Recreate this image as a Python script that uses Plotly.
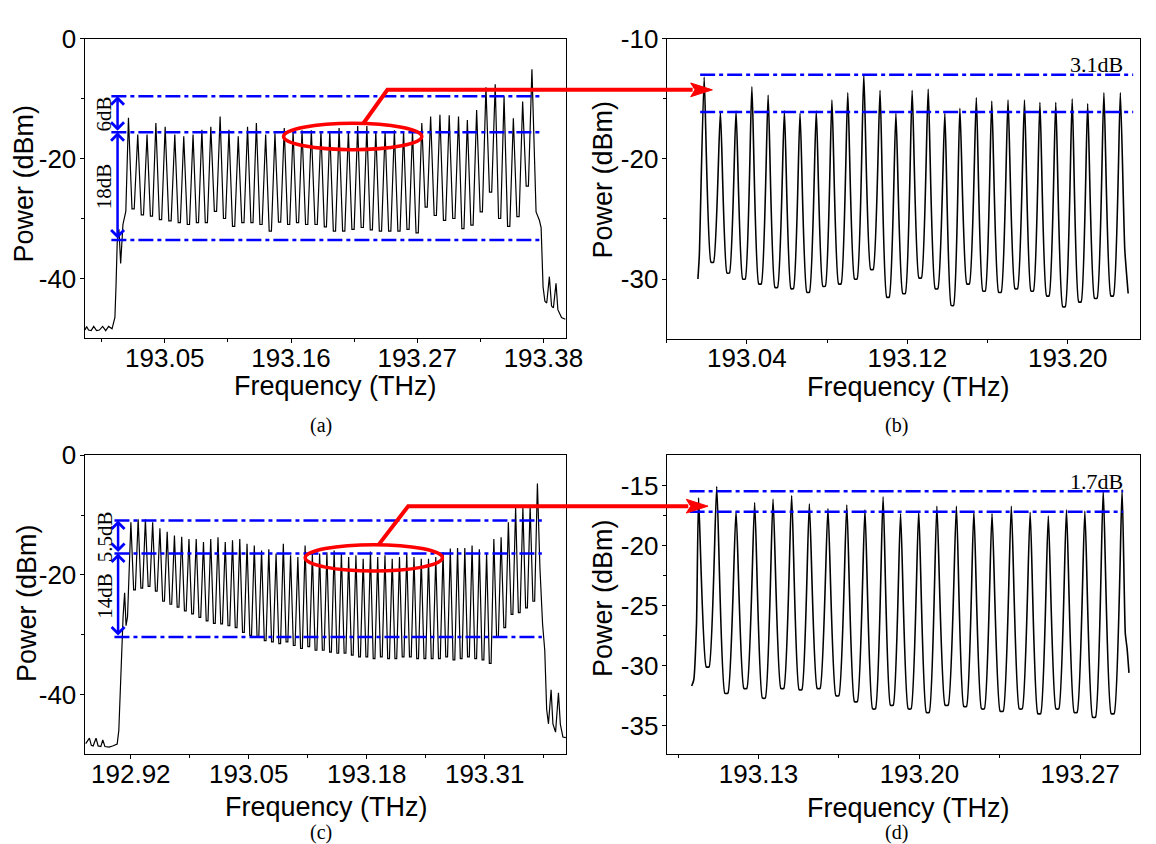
import plotly.graph_objects as go

W, H = 1156, 844

# ---------------------------------------------------------------------------
# Spectra.  Each comb is stored as its line peaks, the floor level reached
# between neighbouring lines, and the skirt points before/after the comb.
# ---------------------------------------------------------------------------

# (a) full comb, first configuration
A_PEAK_F = [193.0183, 193.0264, 193.0345, 193.0422, 193.0503, 193.0587, 193.0665, 193.0746,
            193.0823, 193.0901, 193.0982, 193.1059, 193.1140, 193.1221, 193.1298, 193.1379,
            193.1460, 193.1541, 193.1618, 193.1696, 193.1777, 193.1861, 193.1938, 193.2019,
            193.2100, 193.2181, 193.2261, 193.2339, 193.2420, 193.2501, 193.2581, 193.2659,
            193.2740, 193.2817, 193.2898, 193.2979, 193.3060, 193.3137, 193.3218, 193.3299,
            193.3380, 193.3457, 193.3538, 193.3619, 193.3700]
A_PEAK_P = [-13.2, -16.0, -16.0, -14.1, -14.7, -16.0, -16.3, -16.0, -15.2, -14.7, -13.0, -15.2,
            -16.3, -14.7, -14.1, -16.0, -15.8, -14.9, -15.4, -15.3, -15.3, -15.4, -15.4, -14.9,
            -15.4, -14.6, -14.6, -15.4, -15.4, -15.3, -15.4, -15.3, -14.1, -13.0, -12.7, -12.8,
            -13.0, -13.6, -11.9, -8.1, -7.6, -9.6, -13.3, -10.5, -5.1]
A_FLOOR_P = [-28.4, -29.4, -29.6, -30.2, -30.4, -30.7, -31.0, -30.7, -30.7, -28.8, -30.0, -31.3,
             -30.7, -30.7, -31.0, -32.1, -30.6, -31.0, -30.7, -31.0, -31.0, -31.4, -32.1, -32.1,
             -31.8, -31.5, -31.9, -32.1, -32.1, -32.1, -31.8, -32.4, -28.1, -29.5, -30.3, -30.0,
             -31.7, -31.1, -28.9, -25.6, -30.0, -31.3, -29.7, -24.6]
A_LEAD_F = [192.9805, 192.9818, 192.9835, 192.9858, 192.9880, 192.9905, 192.9930, 192.9958,
            192.9985, 193.0010, 193.0040, 193.0065, 193.0075, 193.0085, 193.0100, 193.0115,
            193.0135, 193.0160]
A_LEAD_P = [-48.6, -48.0, -48.6, -48.7, -48.0, -48.7, -48.6, -48.0, -48.7, -48.0, -48.4, -46.5,
            -41.0, -34.0, -31.8, -37.5, -31.0, -28.8]
A_TAIL_F = [193.3716, 193.3736, 193.3765, 193.3780, 193.3797, 193.3813, 193.3829, 193.3852,
            193.3871, 193.3887, 193.3910, 193.3926, 193.3958, 193.3991]
A_TAIL_P = [-16.0, -28.9, -30.3, -31.5, -41.4, -43.8, -44.1, -39.7, -44.6, -44.9, -40.8, -45.2,
            -46.5, -46.8]

# (b) close-up of the first configuration
B_PEAK_F = [193.0187, 193.0268, 193.0346, 193.0425, 193.0506, 193.0587, 193.0665, 193.0746,
            193.0824, 193.0903, 193.0983, 193.1064, 193.1143, 193.1224, 193.1304, 193.1387,
            193.1462, 193.1544, 193.1621, 193.1702, 193.1784, 193.1861, 193.1940, 193.2022,
            193.2099, 193.2180, 193.2262]
B_PEAK_P = [-13.2, -16.1, -16.0, -14.0, -14.7, -16.0, -16.2, -16.0, -15.1, -14.5, -13.0, -14.3,
            -16.2, -14.3, -14.2, -16.2, -15.8, -14.9, -15.2, -15.1, -15.1, -15.3, -15.3, -15.0,
            -15.4, -14.5, -14.5]
B_FLOOR_P = [-28.6, -29.5, -30.0, -30.4, -30.7, -30.8, -31.1, -30.6, -30.4, -30.0, -29.2, -31.5,
             -31.2, -29.9, -30.8, -32.2, -30.4, -31.0, -31.1, -30.8, -31.0, -31.4, -32.3, -31.9,
             -31.6, -31.4]
B_LEAD_F = [193.0156, 193.0163]
B_LEAD_P = [-30.0, -28.0]
B_TAIL_F = [193.2284, 193.2301]
B_TAIL_P = [-27.5, -31.2]

# (c) full comb, second configuration
C_PEAK_F = [192.9201, 192.9281, 192.9361, 192.9441, 192.9521, 192.9601, 192.9681, 192.9761,
            192.9841, 192.9921, 193.0001, 193.0081, 193.0161, 193.0241, 193.0321, 193.0401,
            193.0481, 193.0561, 193.0641, 193.0721, 193.0801, 193.0881, 193.0961, 193.1041,
            193.1121, 193.1201, 193.1281, 193.1361, 193.1441, 193.1521, 193.1601, 193.1681,
            193.1761, 193.1841, 193.1921, 193.2001, 193.2081, 193.2161, 193.2241, 193.2321,
            193.2401, 193.2481, 193.2561, 193.2641, 193.2721, 193.2801, 193.2881, 193.2961,
            193.3041, 193.3121, 193.3201, 193.3281, 193.3361, 193.3441, 193.3521, 193.3601,
            193.3681]
C_PEAK_P = [-11.2, -10.7, -10.7, -11.2, -12.2, -12.8, -13.4, -13.6, -14.0, -14.0, -14.5, -14.0,
            -13.7, -14.5, -14.2, -14.0, -14.8, -15.1, -15.9, -15.7, -16.4, -14.8, -16.7, -17.0,
            -15.1, -16.4, -16.4, -16.2, -15.9, -16.4, -17.0, -16.7, -17.3, -16.1, -17.0, -16.7,
            -17.3, -17.0, -16.4, -17.0, -17.3, -17.3, -17.0, -16.2, -15.6, -15.5, -15.5, -15.1,
            -15.7, -16.4, -14.0, -13.7, -11.2, -8.8, -8.8, -8.5, -4.7]
C_FLOOR_P = [-22.5, -22.2, -21.9, -22.7, -24.4, -24.9, -25.4, -26.0, -26.5, -27.1, -27.7, -28.1,
             -28.2, -28.5, -28.8, -29.6, -30.1, -30.4, -31.0, -31.2, -31.5, -31.2, -31.8, -32.3,
             -32.0, -32.6, -32.6, -32.9, -33.1, -33.1, -33.4, -33.7, -33.7, -34.0, -33.7, -34.0,
             -34.0, -33.7, -33.7, -34.0, -34.0, -34.0, -34.0, -33.7, -34.2, -34.0, -33.7, -34.0,
             -34.2, -34.8, -30.4, -28.8, -26.6, -26.3, -25.5, -24.4]
C_LEAD_F = [192.8703, 192.8744, 192.8765, 192.8785, 192.8817, 192.8840, 192.8870, 192.8891,
            192.8915, 192.8960, 192.9000, 192.9050, 192.9068, 192.9085, 192.9100, 192.9115,
            192.9132, 192.9148, 192.9164]
C_LEAD_P = [-48.2, -47.3, -48.5, -48.6, -47.3, -48.6, -48.7, -47.6, -48.7, -48.8, -48.6, -48.3,
            -46.0, -38.0, -31.0, -27.0, -23.0, -28.5, -27.0]
C_TAIL_F = [193.3709, 193.3738, 193.3762, 193.3783, 193.3803, 193.3832, 193.3852, 193.3881,
            193.3913, 193.3934, 193.3962, 193.3995]
C_TAIL_P = [-18.9, -28.2, -32.6, -42.5, -44.9, -39.2, -44.9, -46.3, -39.7, -45.0, -47.1, -47.2]

# (d) close-up of the second configuration
D_PEAK_F = [193.1039, 193.1118, 193.1202, 193.1283, 193.1363, 193.1444, 193.1521, 193.1602,
            193.1684, 193.1763, 193.1842, 193.1918, 193.1997, 193.2076, 193.2161, 193.2237,
            193.2316, 193.2400, 193.2482, 193.2561, 193.2640, 193.2720, 193.2800, 193.2882]
D_PEAK_P = [-16.0, -15.05, -17.1, -16.4, -16.1, -15.8, -16.5, -16.9, -16.6, -17.0, -15.9, -17.3,
            -17.1, -16.7, -16.7, -17.1, -17.3, -16.7, -17.2, -17.5, -17.0, -17.1, -15.4, -15.3]
D_FLOOR_P = [-30.1, -32.3, -31.9, -32.7, -31.9, -32.0, -31.9, -32.5, -33.0, -33.6, -33.3, -33.6,
             -33.9, -33.3, -33.4, -33.6, -33.8, -33.6, -34.0, -33.6, -33.9, -34.3, -34.0]
D_LEAD_F = [193.1009, 193.1018, 193.1030]
D_LEAD_P = [-31.7, -31.2, -26.5]
D_TAIL_F = [193.2896, 193.2904, 193.2912]
D_TAIL_P = [-27.3, -28.6, -30.6]

# ---------------------------------------------------------------------------
# Reference levels and the dB spans printed beside them
# ---------------------------------------------------------------------------
A_MID_LEVEL = -15.6
A_SPANS = [6, 18]          # top-to-middle, middle-to-bottom
B_LOW_LEVEL = -16.1
B_SPAN = 3.1
C_MID_LEVEL = -16.4
C_SPANS = [5.5, 14]
D_LOW_LEVEL = -17.15
D_SPAN = 1.7

# ---------------------------------------------------------------------------
# Axes: ranges, tick values and labels
# ---------------------------------------------------------------------------
A_XRANGE, A_YRANGE = [192.98, 193.40], [-50, 0]
A_XTICKS = [193.05, 193.16, 193.27, 193.38]
A_XMINOR = [192.995, 193.105, 193.215, 193.325]
A_YTICKS, A_YMINOR = [0, -20, -40], [-10, -30]

B_XRANGE, B_YRANGE = [193.00, 193.236], [-35, -10]
B_XTICKS = [193.04, 193.12, 193.20]
B_XMINOR = [193.00, 193.08, 193.16]
B_YTICKS, B_YMINOR = [-10, -20, -30], [-15, -25]

C_XRANGE, C_YRANGE = [192.869, 193.40], [-50, 0]
C_XTICKS = [192.92, 193.05, 193.18, 193.31]
C_XMINOR = [192.985, 193.115, 193.245, 193.375]
C_YTICKS, C_YMINOR = [0, -20, -40], [-10, -30]

D_XRANGE, D_YRANGE = [193.09, 193.296], [-37.4, -12.45]
D_XTICKS = [193.13, 193.20, 193.27]
D_XMINOR = [193.095, 193.165, 193.235]
D_YTICKS, D_YMINOR = [-15, -20, -25, -30, -35], [-17.5, -22.5, -27.5, -32.5]

# zoom-region ellipses (frequency span, power span)
A_ELLIPSE_F, A_ELLIPSE_P = [193.1535, 193.2740], [-18.52, -14.13]
C_ELLIPSE_F, C_ELLIPSE_P = [193.1122, 193.2634], [-19.34, -14.95]

# ---------------------------------------------------------------------------
# Layout geometry (pixels on the 1156 x 844 page)
# ---------------------------------------------------------------------------
PX_X = {"a": (85.7, 574.3), "b": (676.0, 1156.0), "c": (85.7, 574.3), "d": (676.0, 1156.0)}
PX_Y = {"a": (24.0, 329.3), "b": (24.0, 330.0), "c": (448.3, 752.7), "d": (448.3, 752.7)}
RANGES = {"a": (A_XRANGE, A_YRANGE), "b": (B_XRANGE, B_YRANGE),
          "c": (C_XRANGE, C_YRANGE), "d": (D_XRANGE, D_YRANGE)}
AXIS_ID = {"a": "", "b": "2", "c": "3", "d": "4"}

SANS = "Liberation Sans"
SERIF = "Liberation Serif"
BLUE = "#0000FF"
RED = "#FF0000"


def to_paper(panel, f, p):
    """Convert a (frequency, power) point of a panel to paper coordinates."""
    (x0, x1), (ytop, ybot) = PX_X[panel], PX_Y[panel]
    (f0, f1), (p0, p1) = RANGES[panel]
    px = x0 + (f - f0) / (f1 - f0) * (x1 - x0)
    py = ybot - (p - p0) / (p1 - p0) * (ybot - ytop)
    return px / W, 1 - py / H


def comb_points(lead_f, lead_p, pk_f, pk_p, fl_p, tail_f, tail_p, tooth):
    """Peaks joined through a floor segment; `tooth` is the share of the line
    spacing taken by each flank of a comb tooth."""
    xs, ys = list(lead_f), list(lead_p)
    for k, (f, p) in enumerate(zip(pk_f, pk_p)):
        xs.append(f)
        ys.append(p)
        if k < len(pk_f) - 1:
            d = pk_f[k + 1] - f
            xs += [f + tooth * d, pk_f[k + 1] - tooth * d]
            ys += [fl_p[k], fl_p[k]]
    xs += list(tail_f)
    ys += list(tail_p)
    return xs, ys


fig = go.Figure()

# (lead, peaks, floors, tail, line width, curve shape, tooth flank share)
combs = {
    "a": (A_LEAD_F, A_LEAD_P, A_PEAK_F, A_PEAK_P, A_FLOOR_P, A_TAIL_F, A_TAIL_P,
          1.2, "linear", 0.38),
    "b": (B_LEAD_F, B_LEAD_P, B_PEAK_F, B_PEAK_P, B_FLOOR_P, B_TAIL_F, B_TAIL_P,
          1.6, "spline", 0.42),
    "c": (C_LEAD_F, C_LEAD_P, C_PEAK_F, C_PEAK_P, C_FLOOR_P, C_TAIL_F, C_TAIL_P,
          1.2, "linear", 0.38),
    "d": (D_LEAD_F, D_LEAD_P, D_PEAK_F, D_PEAK_P, D_FLOOR_P, D_TAIL_F, D_TAIL_P,
          1.6, "spline", 0.42),
}
for panel, (lf, lp, pf, pp, fp, tf, tp, lw, shape, tooth) in combs.items():
    xs, ys = comb_points(lf, lp, pf, pp, fp, tf, tp, tooth)
    sid = AXIS_ID[panel]
    line = dict(color="black", width=lw, shape=shape)
    if shape == "spline":
        line["smoothing"] = 0.5
    fig.add_trace(go.Scatter(x=xs, y=ys, mode="lines", line=line,
                             xaxis="x" + sid, yaxis="y" + sid, hoverinfo="skip",
                             showlegend=False))

# ---------------------------------------------------------------------------
# Axes
# ---------------------------------------------------------------------------
ticks = {
    "a": (A_XTICKS, A_XMINOR, A_YTICKS, A_YMINOR),
    "b": (B_XTICKS, B_XMINOR, B_YTICKS, B_YMINOR),
    "c": (C_XTICKS, C_XMINOR, C_YTICKS, C_YMINOR),
    "d": (D_XTICKS, D_XMINOR, D_YTICKS, D_YMINOR),
}


def axis_style(rng, dom, tv, tt, minor, anchor, standoff):
    return dict(range=rng, domain=dom, anchor=anchor, tickmode="array", tickvals=tv, ticktext=tt,
                showline=True, linecolor="black", linewidth=1, mirror=True,
                ticks="outside", ticklen=4, tickwidth=1, tickcolor="black",
                ticklabelstandoff=standoff,
                showgrid=False, zeroline=False, fixedrange=True,
                tickfont=dict(family=SANS, size=26, color="black"),
                minor=dict(tickmode="array", tickvals=minor, ticks="outside", ticklen=3,
                           tickwidth=1, tickcolor="black", showgrid=False))


layout_axes = {}
for panel, (xt, xm, yt, ym) in ticks.items():
    sid = AXIS_ID[panel]
    (xr, yr) = RANGES[panel]
    xdom = [PX_X[panel][0] / W, PX_X[panel][1] / W]
    ydom = [1 - PX_Y[panel][1] / H, 1 - PX_Y[panel][0] / H]
    layout_axes["xaxis" + sid] = axis_style(xr, xdom, xt, [f"{v:.2f}" for v in xt], xm,
                                            "y" + sid, -8)
    layout_axes["yaxis" + sid] = axis_style(yr, ydom, yt, [f"{v:g}" for v in yt], ym,
                                            "x" + sid, -2)

fig.update_layout(width=W, height=H, margin=dict(l=0, r=0, t=0, b=0),
                  paper_bgcolor="white", plot_bgcolor="white", showlegend=False,
                  **layout_axes)

shapes = []
annotations = []


def dashdot(panel, f0, f1, p):
    sid = AXIS_ID[panel]
    shapes.append(dict(type="line", xref="x" + sid, yref="y" + sid, x0=f0, x1=f1, y0=p, y1=p,
                       line=dict(color=BLUE, width=2.5, dash="15px,4px,4px,4px"), layer="above"))


def span_arrow(panel, f, p_hi, p_lo):
    sid = AXIS_ID[panel]
    annotations.append(dict(x=f, y=p_hi, ax=f, ay=p_lo, xref="x" + sid, yref="y" + sid,
                            axref="x" + sid, ayref="y" + sid, text="", showarrow=True,
                            arrowhead=4, startarrowhead=4, arrowside="end+start",
                            arrowsize=1, startarrowsize=1, arrowwidth=2.5, arrowcolor=BLUE,
                            standoff=0, startstandoff=0))


def span_label(panel, f, p, text, angle=-90, size=21):
    sid = AXIS_ID[panel]
    annotations.append(dict(x=f, y=p, xref="x" + sid, yref="y" + sid, text=text,
                            showarrow=False, textangle=angle,
                            font=dict(family=SERIF, size=size, color="black"),
                            xanchor="center", yanchor="middle"))


# (a) reference levels
a_top = A_MID_LEVEL + A_SPANS[0]
a_bot = A_MID_LEVEL - A_SPANS[1]
for lvl in (a_top, A_MID_LEVEL, a_bot):
    dashdot("a", 193.0034, 193.378, lvl)
span_arrow("a", 193.0088, a_top, A_MID_LEVEL)
span_arrow("a", 193.0088, A_MID_LEVEL, a_bot)
span_label("a", 192.9972, (a_top + A_MID_LEVEL) / 2, f"{A_SPANS[0]:g}dB")
span_label("a", 192.9972, (A_MID_LEVEL + a_bot) / 2, f"{A_SPANS[1]:g}dB")

# (b) reference levels
b_top = B_LOW_LEVEL + B_SPAN
for lvl in (b_top, B_LOW_LEVEL):
    dashdot("b", 193.0167, 193.2326, lvl)
span_label("b", 193.2142, -12.14, f"{B_SPAN:g}dB", angle=0, size=22)

# (c) reference levels
c_top = C_MID_LEVEL + C_SPANS[0]
c_bot = C_MID_LEVEL - C_SPANS[1]
for lvl in (c_top, C_MID_LEVEL, c_bot):
    dashdot("c", 192.902, 193.373, lvl)
span_arrow("c", 192.906, c_top, C_MID_LEVEL)
span_arrow("c", 192.906, C_MID_LEVEL, c_bot)
span_label("c", 192.892, (c_top + C_MID_LEVEL) / 2, f"{C_SPANS[0]:g}dB")
span_label("c", 192.892, (C_MID_LEVEL + c_bot) / 2, f"{C_SPANS[1]:g}dB")

# (d) reference levels
d_top = D_LOW_LEVEL + D_SPAN
for lvl in (d_top, D_LOW_LEVEL):
    dashdot("d", 193.100, 193.2887, lvl)
span_label("d", 193.2772, -14.65, f"{D_SPAN:g}dB", angle=0, size=22)

# zoom ellipses
for panel, ef, ep in (("a", A_ELLIPSE_F, A_ELLIPSE_P), ("c", C_ELLIPSE_F, C_ELLIPSE_P)):
    sid = AXIS_ID[panel]
    shapes.append(dict(type="circle", xref="x" + sid, yref="y" + sid, x0=ef[0], x1=ef[1],
                       y0=ep[0], y1=ep[1], line=dict(color=RED, width=3.5), layer="above"))


# connectors from each ellipse to the matching close-up
def connector(src, start, elbow, dst, tip_f):
    sx, sy = to_paper(src, *start)
    ex, ey = to_paper(src, *elbow)
    tx, _ = to_paper(dst, tip_f, RANGES[dst][1][0])
    head_len, head_half = 22 / W, 7 / H
    shapes.append(dict(type="path", xref="paper", yref="paper", layer="above",
                       path=f"M{sx},{sy} L{ex},{ey} L{tx - head_len + 2 / W},{ey}",
                       line=dict(color=RED, width=4)))
    shapes.append(dict(type="path", xref="paper", yref="paper", layer="above",
                       path=(f"M{tx},{ey} L{tx - head_len},{ey + head_half} "
                             f"L{tx - head_len * 0.8},{ey} L{tx - head_len},{ey - head_half} Z"),
                       fillcolor=RED, line=dict(color=RED, width=1)))


connector("a", (193.223, -14.16), (193.244, -8.55), "b", 193.0228)
connector("c", (193.193, -14.97), (193.2257, -8.5), "d", 193.108)

# axis titles and panel captions (pixel positions on the page)
TEXTS = [
    ("Power (dBm)", 24, 172, -90, SANS, 27),
    ("Frequency (THz)", 340, 378, 0, SANS, 27),
    ("(a)", 325, 418, 0, SERIF, 20),
    ("Power (dBm)", 611, 168, -90, SANS, 27),
    ("Frequency (THz)", 921, 379, 0, SANS, 27),
    ("(b)", 909, 418, 0, SERIF, 20),
    ("Power (dBm)", 28, 599, -90, SANS, 27),
    ("Frequency (THz)", 331, 806, 0, SANS, 27),
    ("(c)", 325, 832, 0, SERIF, 20),
    ("Power (dBm)", 612, 594, -90, SANS, 27),
    ("Frequency (THz)", 921, 807, 0, SANS, 27),
    ("(d)", 909, 832, 0, SERIF, 20),
]
for text, x, y, ang, fam, size in TEXTS:
    annotations.append(dict(x=x / W, y=1 - y / H, xref="paper", yref="paper", text=text,
                            showarrow=False, textangle=ang, xanchor="center", yanchor="middle",
                            font=dict(family=fam, size=size, color="black")))

fig.update_layout(shapes=shapes, annotations=annotations)

# the figure fills the page exactly, so drop the default page margin
fig.write_html("out.html",
               post_script="document.body.style.margin='0px';"
                           "document.body.style.overflow='hidden';")
